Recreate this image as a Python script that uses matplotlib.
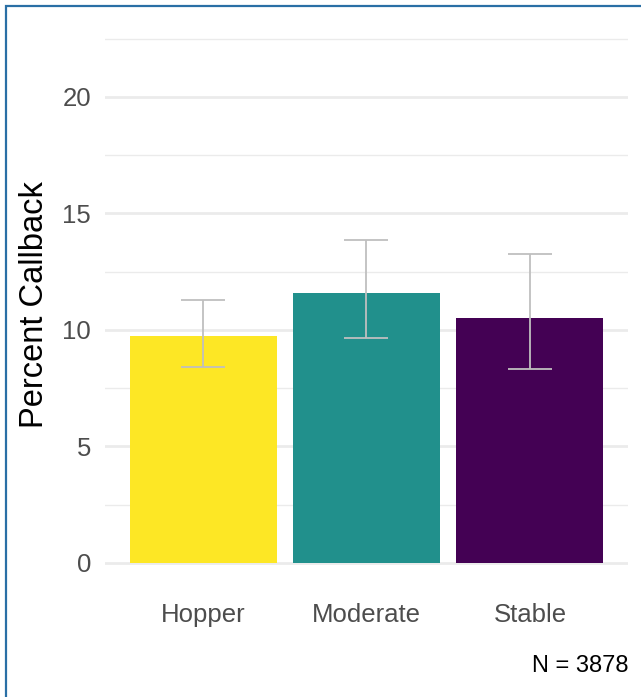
import matplotlib
matplotlib.use('Agg')
import matplotlib.pyplot as plt
from matplotlib.patches import Rectangle
import numpy as np

# data
groups = ["Hopper", "Moderate", "Stable"]
callback = [9.74, 11.59, 10.51]
ci_low = [8.41, 9.66, 8.33]
ci_high = [11.29, 13.86, 13.26]
colors = ["#FDE725", "#21908C", "#440154"]
n_total = 3878

plt.rcParams['font.family'] = ['Liberation Sans', 'DejaVu Sans']

fig = plt.figure(figsize=(6.41, 6.97), dpi=100)
ax = fig.add_axes([0.1638, 0.1564, 0.8159, 0.7906])

x = np.arange(1, len(groups) + 1)
ax.bar(x, callback, width=0.9, color=colors, zorder=2)

yerr = [np.array(callback) - np.array(ci_low), np.array(ci_high) - np.array(callback)]
ax.errorbar(x, callback, yerr=yerr, fmt='none', ecolor='#bfbfbf',
            elinewidth=1.3, capsize=16, capthick=1.3, zorder=3)

ax.set_xlim(0.4, 3.6)
ax.set_ylim(-1.075, 22.575)
ax.set_yticks([0, 5, 10, 15, 20])
ax.set_yticks([2.5, 7.5, 12.5, 17.5, 22.5], minor=True)
ax.set_xticks(x)
ax.set_xticklabels(groups)

ax.grid(which='major', axis='y', color='#ebebeb', linewidth=2.0, zorder=0)
ax.grid(which='minor', axis='y', color='#ebebeb', linewidth=1.0, zorder=0)
ax.set_axisbelow(True)
for s in ax.spines.values():
    s.set_visible(False)
ax.tick_params(axis='both', which='both', length=0)
ax.tick_params(axis='y', labelsize=18.5, labelcolor='#4d4d4d', pad=10)
ax.tick_params(axis='x', labelsize=18.5, labelcolor='#4d4d4d', pad=11)

ax.set_ylabel("Percent Callback", fontsize=23.5, color='black')
ax.yaxis.set_label_coords(-0.106, 0.5136)

fig.text(0.98, 0.036, "N = %d" % n_total, ha='right', va='baseline',
         fontsize=17, color='black')

# thin blue frame around the figure
fig.patches.append(Rectangle((6 / 641, -0.1), 1.2, (691 / 697) + 0.1,
                             transform=fig.transFigure, fill=False,
                             edgecolor='#2a6fa5', linewidth=1.6))

fig.savefig("out.png", dpi=100)
